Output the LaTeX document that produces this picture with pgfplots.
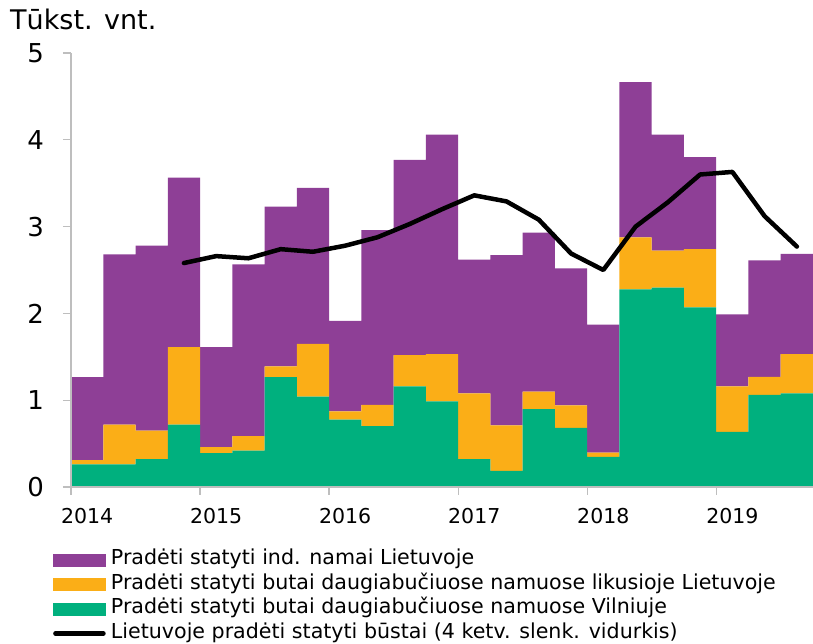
\documentclass[border=0pt]{standalone}
\usepackage{pgfplots}
\pgfplotsset{compat=1.18}
\usepackage{fontspec}
\setmainfont{DejaVu Sans}
\definecolor{purp}{RGB}{142,63,150}
\definecolor{orng}{RGB}{251,174,23}
\definecolor{grn}{RGB}{0,176,126}
\definecolor{axgray}{RGB}{190,190,190}
\begin{document}
\begin{tikzpicture}
\path[use as bounding box] (-71pt,-157pt) rectangle (742pt,487pt);
\begin{axis}[
  at={(0pt,0pt)}, anchor=south west,
  scale only axis, width=742pt, height=434pt,
  xmin=0, xmax=23, ymin=0, ymax=5, enlargelimits=false,
  axis x line*=bottom, axis y line*=left,
  axis line style={axgray, line width=1.2pt},
  ybar stacked, bar width=1,
  xtick={0,4,8,12,16,20}, xticklabels={2014,2015,2016,2017,2018,2019},
  xticklabel style={font=\fontsize{20.5}{24}\selectfont, inner sep=0pt, xshift=16.13pt, yshift=-13pt},
  ytick={0,1,2,3,4,5},
  yticklabel style={font=\fontsize{26}{30}\selectfont, inner sep=0pt, xshift=-19pt},
  tick align=outside, major tick length=8pt,
  tick style={axgray, line width=1.2pt},
  /pgf/number format/assume math mode=true,
  axis on top,
]
\addplot[fill=grn, draw=none] coordinates {
(0.5,0.26) (1.5,0.26) (2.5,0.32) (3.5,0.72)
(4.5,0.39) (5.5,0.42) (6.5,1.265) (7.5,1.04)
(8.5,0.777) (9.5,0.70) (10.5,1.16) (11.5,0.985)
(12.5,0.32) (13.5,0.185) (14.5,0.896) (15.5,0.68)
(16.5,0.346) (17.5,2.277) (18.5,2.296) (19.5,2.07)
(20.5,0.635) (21.5,1.06) (22.5,1.08)};
\addplot[fill=orng, draw=none] coordinates {
(0.5,0.05) (1.5,0.46) (2.5,0.33) (3.5,0.89)
(4.5,0.07) (5.5,0.165) (6.5,0.125) (7.5,0.61)
(8.5,0.093) (9.5,0.246) (10.5,0.36) (11.5,0.545)
(12.5,0.76) (13.5,0.525) (14.5,0.204) (15.5,0.26)
(16.5,0.05) (17.5,0.60) (18.5,0.427) (19.5,0.67)
(20.5,0.525) (21.5,0.21) (22.5,0.45)};
\addplot[fill=purp, draw=none] coordinates {
(0.5,0.955) (1.5,1.96) (2.5,2.13) (3.5,1.955)
(4.5,1.15) (5.5,1.98) (6.5,1.84) (7.5,1.796)
(8.5,1.045) (9.5,2.014) (10.5,2.25) (11.5,2.53)
(12.5,1.54) (13.5,1.96) (14.5,1.83) (15.5,1.58)
(16.5,1.474) (17.5,1.788) (18.5,1.337) (19.5,1.06)
(20.5,0.83) (21.5,1.34) (22.5,1.155)};
\end{axis}
\begin{axis}[
  at={(0pt,0pt)}, anchor=south west,
  scale only axis, width=742pt, height=434pt,
  xmin=0, xmax=23, ymin=0, ymax=5, enlargelimits=false,
  hide axis,
  legend cell align=left,
  legend style={at={(0,0)}, anchor=north west, xshift=-18pt, yshift=-60.5pt,
    draw=none, fill=none, inner sep=0pt, row sep=0pt,
    font=\fontsize{20.6}{24}\selectfont,
    nodes={text height=15pt, text depth=5pt, inner sep=2.25pt},
    /tikz/every odd column/.append style={column sep=3pt}},
]
\addplot[black, line width=4.5pt, line join=round, line cap=round, mark=none, forget plot] coordinates {
(3.5,2.58) (4.5,2.66) (5.5,2.635) (6.5,2.74) (7.5,2.71) (8.5,2.78)
(9.5,2.877) (10.5,3.03) (11.5,3.20) (12.5,3.36) (13.5,3.29) (14.5,3.08)
(15.5,2.69) (16.5,2.50) (17.5,3.0) (18.5,3.28) (19.5,3.60) (20.5,3.63)
(21.5,3.12) (22.5,2.77)};
\addlegendimage{legend image code/.code={\fill[purp] (0pt,-6pt) rectangle (52pt,6pt);}}
\addlegendentry{Pradėti statyti ind. namai Lietuvoje}
\addlegendimage{legend image code/.code={\fill[orng] (0pt,-6pt) rectangle (52pt,6pt);}}
\addlegendentry{Pradėti statyti butai daugiabučiuose namuose likusioje Lietuvoje}
\addlegendimage{legend image code/.code={\fill[grn] (0pt,-6pt) rectangle (52pt,6pt);}}
\addlegendentry{Pradėti statyti butai daugiabučiuose namuose Vilniuje}
\addlegendimage{legend image code/.code={\draw[black, line width=4.5pt, line cap=round] (2pt,0pt) -- (50pt,0pt);}}
\addlegendentry{Lietuvoje pradėti statyti būstai (4 ketv. slenk. vidurkis)}
\end{axis}
\node[anchor=base west, inner sep=0pt, font=\fontsize{27}{30}\selectfont] at (-61pt,457.5pt) {Tūkst. vnt.};
\end{tikzpicture}
\end{document}
